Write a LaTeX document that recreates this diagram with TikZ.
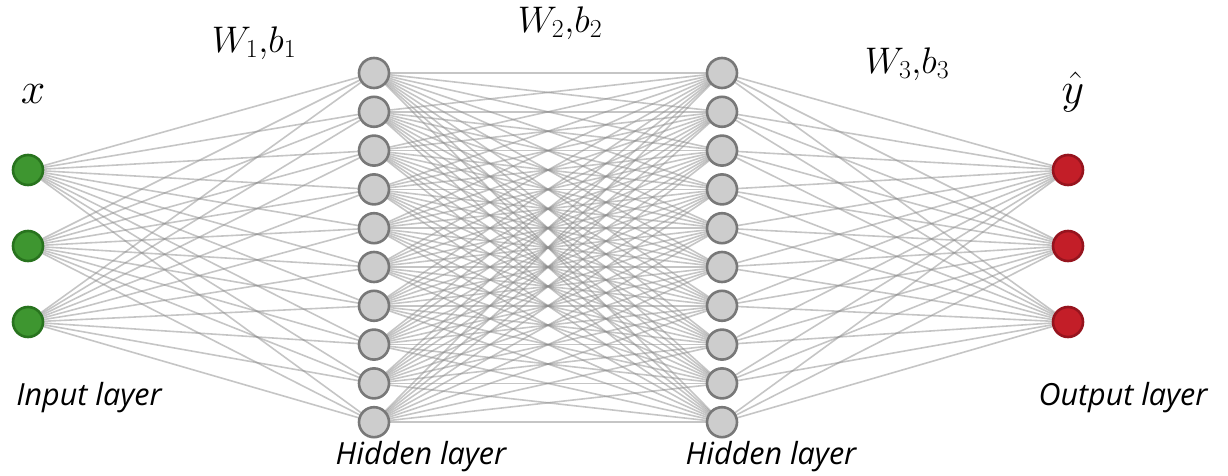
\documentclass[tikz,border=0pt]{standalone}
\usepackage{fix-cm}
\usepackage{fontspec}
\setsansfont{Open Sans}
\usetikzlibrary{backgrounds}
\definecolor{ingreen}{RGB}{62,150,48}
\definecolor{ingreenb}{RGB}{40,115,30}
\definecolor{hidfill}{RGB}{205,205,205}
\definecolor{hidborder}{RGB}{120,120,120}
\definecolor{outred}{RGB}{195,30,40}
\definecolor{outredb}{RGB}{150,20,30}
\definecolor{edgegray}{RGB}{140,140,140}
\tikzset{
  neuron/.style={circle, inner sep=0pt, minimum size=30pt, line width=2.6pt},
  inneuron/.style={neuron, fill=ingreen, draw=ingreenb},
  hidneuron/.style={neuron, fill=hidfill, draw=hidborder},
  outneuron/.style={neuron, fill=outred, draw=outredb},
  conn/.style={draw=edgegray, line width=1.6pt, opacity=0.5},
  layerlabel/.style={font=\fontsize{30.5}{34}\sffamily\itshape, inner sep=0pt},
  mathlabel/.style={font=\fontsize{37}{42}\selectfont, inner sep=0pt}
}
\begin{document}
\begin{tikzpicture}[x=1pt,y=-1pt]
\useasboundingbox (0,0) rectangle (1228,476);
% input layer
\foreach \i/\y in {1/170,2/246,3/322}
  \node[inneuron] (i\i) at (28,\y) {};
% hidden layers
\foreach \i in {1,...,10}{
  \node[hidneuron] (h\i) at (374,{73+(\i-1)*38.8}) {};
  \node[hidneuron] (g\i) at (722,{73+(\i-1)*38.8}) {};
}
% output layer
\foreach \i/\y in {1/170,2/246,3/322}
  \node[outneuron] (o\i) at (1068,\y) {};
% connections
\begin{scope}[on background layer]
\foreach \a in {1,2,3}
  \foreach \b in {1,...,10}{
    \draw[conn] (i\a.center) -- (h\b.center);
    \draw[conn] (g\b.center) -- (o\a.center);
  }
\foreach \a in {1,...,10}
  \foreach \b in {1,...,10}
    \draw[conn] (h\a.center) -- (g\b.center);
\end{scope}
% labels
\node[mathlabel, font=\fontsize{44}{48}\selectfont] (lx) at (33,94) {$x$};
\node[mathlabel, font=\fontsize{44}{48}\selectfont] (ly) at (1073,92) {$\hat{y}$};
\node[mathlabel] (w1) at (254,43) {$W_1{,}b_1$};
\node[mathlabel] (w2) at (560,23) {$W_2{,}b_2$};
\node[mathlabel] (w3) at (907,64) {$W_3{,}b_3$};
\node[layerlabel] (lin) at (89,398) {Input layer};
\node[layerlabel] (lh1) at (421,457) {Hidden layer};
\node[layerlabel] (lh2) at (771,457) {Hidden layer};
\node[layerlabel] (lout) at (1123,398) {Output layer};
\end{tikzpicture}
\end{document}
